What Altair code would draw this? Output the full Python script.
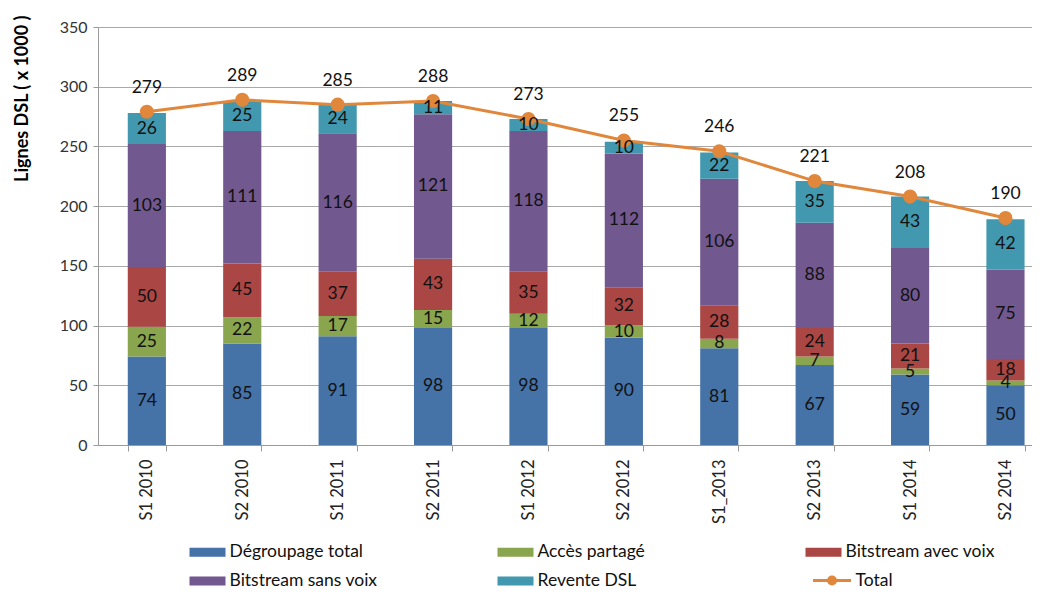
import altair as alt
import pandas as pd

categories = ["S1 2010", "S2 2010", "S1 2011", "S2 2011", "S1 2012",
              "S2 2012", "S1_2013", "S2 2013", "S1 2014", "S2 2014"]
series_names = ["Dégroupage total", "Accès partagé", "Bitstream avec voix",
                "Bitstream sans voix", "Revente DSL"]
series_colors = ["#4572A7", "#89A54E", "#AA4643", "#71588F", "#4198AF"]

degroupage_total = [74, 85, 91, 98, 98, 90, 81, 67, 59, 50]
acces_partage = [25, 22, 17, 15, 12, 10, 8, 7, 5, 4]
bitstream_avec_voix = [50, 45, 37, 43, 35, 32, 28, 24, 21, 18]
bitstream_sans_voix = [103, 111, 116, 121, 118, 112, 106, 88, 80, 75]
revente_dsl = [26, 25, 24, 11, 10, 10, 22, 35, 43, 42]
total = [279, 289, 285, 288, 273, 255, 246, 221, 208, 190]
total_name = "Total"
total_color = "#E0873C"
y_ticks = [0, 50, 100, 150, 200, 250, 300, 350]

series_values = [degroupage_total, acces_partage, bitstream_avec_voix,
                 bitstream_sans_voix, revente_dsl]
rows = []
for i, (name, vals) in enumerate(zip(series_names, series_values)):
    for cat, v in zip(categories, vals):
        rows.append({"cat": cat, "series": name, "value": v, "idx": i})
df = pd.DataFrame(rows)
tdf = pd.DataFrame({"cat": categories, "total": total, "name": total_name})

FONT = "Lato"
GRAY = "#9A9A9A"

x_scale = alt.Scale(domain=categories, paddingInner=0.6, paddingOuter=0.195, align=0.8)
x_enc = alt.X("cat:N", sort=categories, scale=x_scale,
              axis=alt.Axis(title=None, labelAngle=270, labelFontSize=16.5, labelPadding=8,
                            tickSize=6, tickBand="extent", domainColor=GRAY, tickColor=GRAY,
                            labelColor="#222", grid=False, labelFont=FONT))
y_scale = alt.Scale(domain=[0, 350], nice=False)
y_axis = alt.Axis(values=y_ticks, title="Lignes DSL ( x 1000 )", titleFont=FONT,
                  titleFontSize=18, titleFontWeight="bold", titleColor="#000",
                  titleAngle=270, titleAlign="right", titleBaseline="middle",
                  titleX=-76, titleY=-12,
                  labelFont=FONT, labelFontSize=16, labelColor="#333", labelPadding=6,
                  tickSize=5, tickColor=GRAY, domainColor=GRAY,
                  grid=True, gridColor="#A8A8A8", gridWidth=1)

rect_path = "M-1.8,-0.45H1.8V0.45H-1.8Z"
line_path = "M-1.9,0H1.9M0.35,0A0.35,0.35,0,1,1,-0.35,0A0.35,0.35,0,1,1,0.35,0Z"

bars = alt.Chart(df).mark_bar(opacity=1).encode(
    x=x_enc,
    y=alt.Y("value:Q", stack="zero", scale=y_scale, axis=y_axis),
    color=alt.Color("series:N", sort=series_names,
                    scale=alt.Scale(domain=series_names, range=series_colors),
                    legend=alt.Legend(title=None, orient="none", legendX=99.5, legendY=515,
                                      direction="horizontal", columns=3, gridAlign="all",
                                      columnPadding=118, rowPadding=10,
                                      symbolType=rect_path, symbolSize=400,
                                      symbolStrokeWidth=0, symbolOpacity=1,
                                      labelFont=FONT, labelFontSize=17.5, labelColor="#111",
                                      labelOffset=12, labelLimit=300)),
    order=alt.Order("idx:Q", sort="ascending"),
)

bar_labels = alt.Chart(df).transform_window(
    cum="sum(value)", sort=[alt.SortField("idx", order="ascending")],
    groupby=["cat"], frame=[None, 0]
).transform_calculate(
    mid="datum.cum - datum.value / 2"
).mark_text(font=FONT, fontSize=17.5, color="#111", baseline="middle").encode(
    x=alt.X("cat:N", sort=categories, scale=x_scale),
    y=alt.Y("mid:Q", scale=y_scale),
    text=alt.Text("value:Q"),
)

total_line = alt.Chart(tdf).mark_line(
    strokeWidth=3,
    point=alt.OverlayMarkDef(filled=True, size=200, opacity=1),
).encode(
    x=alt.X("cat:N", sort=categories, scale=x_scale),
    y=alt.Y("total:Q", scale=y_scale),
    color=alt.Color("name:N", scale=alt.Scale(domain=[total_name], range=[total_color]),
                    legend=alt.Legend(title=None, orient="none", legendX=722.5, legendY=542,
                                      symbolType=line_path, symbolSize=400,
                                      symbolStrokeWidth=3, symbolStrokeColor=total_color,
                                      symbolFillColor=total_color, symbolOpacity=1,
                                      labelFont=FONT, labelFontSize=17.5, labelColor="#111",
                                      labelOffset=12)),
)

total_labels = alt.Chart(tdf).mark_text(
    font=FONT, fontSize=17.5, color="#111", dy=-24, baseline="middle"
).encode(
    x=alt.X("cat:N", sort=categories, scale=x_scale),
    y=alt.Y("total:Q", scale=y_scale),
    text=alt.Text("total:Q"),
)

chart = alt.layer(bars, total_line, bar_labels, total_labels).resolve_scale(
    color="independent"
).properties(
    width=934, height=418,
    padding={"left": 90, "top": 19, "right": 0, "bottom": 146},
    autosize=alt.AutoSizeParams(type="none"),
).configure_view(stroke=None)

chart.save("out.html", embed_options={"renderer": "svg", "actions": False})
